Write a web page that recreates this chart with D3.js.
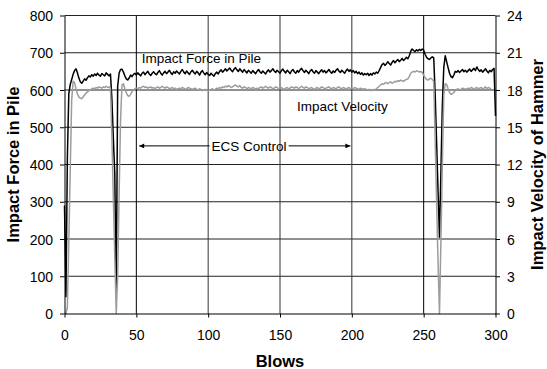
<!DOCTYPE html>
<html lang="en">
<head>
<meta charset="UTF-8">
<title>Impact Force and Hammer Velocity</title>
<script src="https://d3js.org/d3.v7.min.js"></script>
<style>
  body { margin: 0; background: #fff; }
  svg { display: block; font-family: "Liberation Sans", Arial, sans-serif; }
  .axis .tick text { font-size: 14px; fill: #000; }
  .axis path, .axis line { stroke: #000; }
  .title { font-size: 16.5px; font-weight: bold; }
  .note { font-size: 13.5px; }
</style>
</head>
<body>
<svg id="chart" width="547" height="369"></svg>
<script>
// impact force in pile, one reading per blow (blow 0 .. 300)
const force = [
  290, 45, 420, 590, 615, 628, 642, 652, 657, 646,
  632, 622, 618, 624, 630, 626, 633, 638, 635, 641,
  637, 643, 639, 645, 640, 637, 644, 641, 638, 646,
  642, 638, 643, 575, 470, 375, 45, 610, 645, 655,
  656, 648, 638, 630, 627, 632, 640, 636, 642, 645,
  640, 646, 642, 638, 645, 648, 641, 646, 650, 643,
  639, 645, 649, 644, 641, 647, 652, 645, 640, 646,
  650, 644, 648, 653, 646, 642, 649, 645, 651, 647,
  643, 650, 655, 648, 644, 651, 646, 642, 649, 653,
  647, 643, 650, 646, 640, 648, 652, 645, 641, 647,
  642, 639, 645, 641, 637, 644, 648, 643, 650, 654,
  648, 652, 657, 651, 655, 659, 653, 649, 656, 660,
  654, 650, 657, 652, 648, 655, 650, 646, 653, 649,
  645, 652, 648, 644, 650, 655, 649, 645, 651, 647,
  643, 650, 654, 648, 652, 657, 651, 647, 653, 649,
  645, 652, 656, 650, 646, 653, 649, 644, 651, 655,
  649, 645, 652, 648, 654, 658, 652, 647, 653, 649,
  644, 651, 655, 649, 645, 652, 648, 644, 650, 654,
  648, 652, 646, 650, 655, 649, 645, 651, 647, 653,
  657, 651, 647, 653, 649, 645, 652, 656, 650, 654,
  648, 652, 646, 650, 644, 648, 642, 646, 640, 644,
  641, 645, 639, 644, 640, 646, 643, 648, 645, 652,
  660, 668, 672, 666, 670, 676, 671, 667, 674, 679,
  673, 678, 682, 676, 680, 685, 679, 683, 688, 684,
  692, 704, 710, 706, 703, 708, 705, 709, 706, 710,
  707, 696, 688, 684, 682, 686, 689, 686, 590, 460,
  330, 205, 380, 560, 660, 692, 676, 660, 645, 636,
  633, 640, 650, 648, 652, 647, 651, 655, 649, 653,
  648, 652, 656, 650, 654, 658, 652, 662, 655, 650,
  654, 648, 652, 657, 651, 646, 653, 649, 655, 658,
  530
];

// hammer impact velocity, one reading per blow (blow 0 .. 297)
const velocity = [
  0, 0, 0.5, 5.8, 11.6, 17.2, 18.7, 18.6, 18.1, 17.7,
  17.45, 17.35, 17.3, 17.45, 17.6, 17.75, 17.85, 17.95, 18.0, 18.1,
  18.15, 18.1, 18.2, 18.15, 18.25, 18.2, 18.15, 18.25, 18.2, 18.3,
  18.2, 18.25, 18.15, 14.1, 9.3, 4.6, 0, 3.0, 9.5, 15.5,
  18.4, 18.5, 18.1, 17.8, 17.55, 17.5, 17.65, 17.85, 18.0, 18.1,
  18.15, 18.1, 18.2, 18.15, 18.25, 18.3, 18.2, 18.25, 18.15, 18.2,
  18.25, 18.15, 18.2, 18.1, 18.2, 18.25, 18.15, 18.2, 18.3, 18.2,
  18.15, 18.25, 18.2, 18.1, 18.15, 18.2, 18.1, 18.15, 18.05, 18.1,
  18.15, 18.1, 18.2, 18.15, 18.05, 18.1, 18.2, 18.15, 18.1, 18.05,
  18.1, 18.15, 18.05, 18.0, 18.1, 18.05, 17.95, 18.0, 18.05, 18.0,
  17.95, 18.0, 18.05, 18.1, 18.0, 18.05, 18.15, 18.1, 18.2, 18.15,
  18.25, 18.2, 18.3, 18.25, 18.35, 18.3, 18.2, 18.25, 18.35, 18.4,
  18.3, 18.25, 18.35, 18.2, 18.15, 18.25, 18.2, 18.1, 18.2, 18.15,
  18.1, 18.2, 18.15, 18.05, 18.15, 18.1, 18.2, 18.25, 18.15, 18.2,
  18.3, 18.2, 18.15, 18.25, 18.2, 18.1, 18.15, 18.25, 18.2, 18.1,
  18.15, 18.2, 18.1, 18.05, 18.15, 18.2, 18.1, 18.15, 18.25, 18.2,
  18.15, 18.25, 18.2, 18.1, 18.2, 18.3, 18.2, 18.15, 18.25, 18.2,
  18.1, 18.15, 18.2, 18.1, 18.05, 18.15, 18.2, 18.1, 18.15, 18.25,
  18.2, 18.1, 18.15, 18.2, 18.25, 18.15, 18.1, 18.2, 18.15, 18.1,
  18.2, 18.25, 18.15, 18.1, 18.2, 18.15, 18.05, 18.15, 18.2, 18.1,
  18.15, 18.1, 18.2, 18.15, 18.1, 18.05, 18.15, 18.1, 18.05, 18.1,
  18.05, 18.0, 18.05, 17.95, 18.0, 18.05, 18.0, 18.1, 18.2, 18.3,
  18.4, 18.5, 18.45, 18.55, 18.6, 18.5, 18.6, 18.65, 18.55, 18.6,
  18.7, 18.65, 18.75, 18.7, 18.8, 18.75, 18.7, 18.8, 18.85, 18.9,
  19.1, 19.35, 19.45, 19.5, 19.45, 19.55, 19.5, 19.45, 19.5, 19.4,
  19.2, 19.0, 18.85, 18.8, 18.9, 18.95, 18.85, 18.7, 14.0, 9.0,
  4.2, 0, 5.8, 12.0, 17.6, 18.5, 18.45, 18.1, 17.8, 17.65,
  17.7, 17.8, 17.95, 18.05, 18.1, 18.0, 18.05, 18.15, 18.1, 18.05,
  18.1, 18.15, 18.1, 18.2, 18.15, 18.05, 18.15, 18.2, 18.1, 18.15,
  18.2, 18.1, 18.15, 18.25, 18.1, 18.2, 18.15, 18.1
];

const blowTicks = [0, 50, 100, 150, 200, 250, 300];
const forceTicks = [0, 100, 200, 300, 400, 500, 600, 700, 800];
const velocityTicks = [0, 3, 6, 9, 12, 15, 18, 21, 24];

const svg = d3.select("#chart");

// plot box
const plotLeft = 64.5, plotRight = 495.5, plotTop = 15.5, plotBottom = 313.5;

const x = d3.scaleLinear().domain([0, 300]).range([plotLeft, plotRight]);
const y = d3.scaleLinear().domain([0, 800]).range([plotBottom, plotTop]);
const y2 = d3.scaleLinear().domain([0, 24]).range([plotBottom, plotTop]);

// gridlines
svg.append("g")
  .selectAll("line")
  .data(forceTicks.slice(1))
  .enter()
  .append("line")
  .attr("x1", plotLeft).attr("x2", plotRight)
  .attr("y1", d => y(d)).attr("y2", d => y(d))
  .attr("stroke", "#222")
  .attr("stroke-width", 1);

svg.append("g")
  .selectAll("line")
  .data(blowTicks.slice(1, -1))
  .enter()
  .append("line")
  .attr("x1", d => x(d)).attr("x2", d => x(d))
  .attr("y1", plotTop).attr("y2", plotBottom)
  .attr("stroke", d => (d === 50 || d === 250) ? "#000" : "#333")
  .attr("stroke-width", 1);

// series
const forceLine = d3.line().x((d, i) => x(i)).y(d => y(d));
const velocityLine = d3.line().x((d, i) => x(i)).y(d => y2(d));

svg.append("path")
  .datum(force)
  .attr("d", forceLine)
  .attr("fill", "none")
  .attr("stroke", "#000")
  .attr("stroke-width", 1.5)
  .attr("stroke-linejoin", "round");

svg.append("path")
  .datum(velocity)
  .attr("d", velocityLine)
  .attr("fill", "none")
  .attr("stroke", "#9c9c9c")
  .attr("stroke-width", 1.5)
  .attr("stroke-linejoin", "round");

// axes
svg.append("g")
  .attr("class", "axis")
  .attr("transform", `translate(0,${plotBottom})`)
  .call(d3.axisBottom(x).tickValues(blowTicks).tickSize(4).tickSizeOuter(0).tickPadding(13));

svg.append("g")
  .attr("class", "axis")
  .attr("transform", `translate(${plotLeft},0)`)
  .call(d3.axisLeft(y).tickValues(forceTicks).tickSize(4.5).tickSizeOuter(0).tickPadding(7))
  .selectAll("text").attr("dy", "0.36em");

svg.append("g")
  .attr("class", "axis")
  .attr("transform", `translate(${plotRight},0)`)
  .call(d3.axisRight(y2).tickValues(velocityTicks).tickSize(4.5).tickSizeOuter(0).tickPadding(7))
  .selectAll("text").attr("dy", "0.36em");

svg.selectAll(".axis").attr("font-family", null).attr("font-size", null);

// axis titles
svg.append("text")
  .attr("class", "title")
  .attr("x", (plotLeft + plotRight) / 2)
  .attr("y", 366.5)
  .attr("text-anchor", "middle")
  .text("Blows");

svg.append("text")
  .attr("class", "title")
  .attr("transform", `translate(18.5,${(plotTop + plotBottom) / 2}) rotate(-90)`)
  .attr("text-anchor", "middle")
  .text("Impact Force in Pile");

svg.append("text")
  .attr("class", "title")
  .attr("transform", `translate(542.5,${(plotTop + plotBottom) / 2}) rotate(-90)`)
  .attr("text-anchor", "middle")
  .text("Impact Velocity of Hammer");

// series labels
svg.append("text")
  .attr("class", "note")
  .attr("x", x(53.8))
  .attr("y", y(672))
  .text("Impact Force in Pile");

svg.append("text")
  .attr("class", "note")
  .attr("x", x(161.8))
  .attr("y", y2(16.3))
  .text("Impact Velocity");

// ECS control span
const defs = svg.append("defs");
defs.append("marker")
  .attr("id", "head")
  .attr("viewBox", "0 0 10 10")
  .attr("refX", 10).attr("refY", 5)
  .attr("markerWidth", 7).attr("markerHeight", 5)
  .attr("markerUnits", "userSpaceOnUse")
  .attr("orient", "auto-start-reverse")
  .append("path")
  .attr("d", "M0,0L10,5L0,10Z")
  .attr("fill", "#000");

const ecsY = y(450);
const ecsText = svg.append("text")
  .attr("class", "note")
  .attr("x", x(128.5))
  .attr("y", ecsY + 5)
  .attr("text-anchor", "middle")
  .text("ECS Control");
const halfW = ecsText.node().getComputedTextLength() / 2;

svg.append("line")
  .attr("x1", x(128.5) - halfW - 2).attr("x2", x(52))
  .attr("y1", ecsY).attr("y2", ecsY)
  .attr("stroke", "#000").attr("stroke-width", 1)
  .attr("marker-end", "url(#head)");

svg.append("line")
  .attr("x1", x(128.5) + halfW + 2).attr("x2", x(199))
  .attr("y1", ecsY).attr("y2", ecsY)
  .attr("stroke", "#000").attr("stroke-width", 1)
  .attr("marker-end", "url(#head)");
</script>
</body>
</html>
